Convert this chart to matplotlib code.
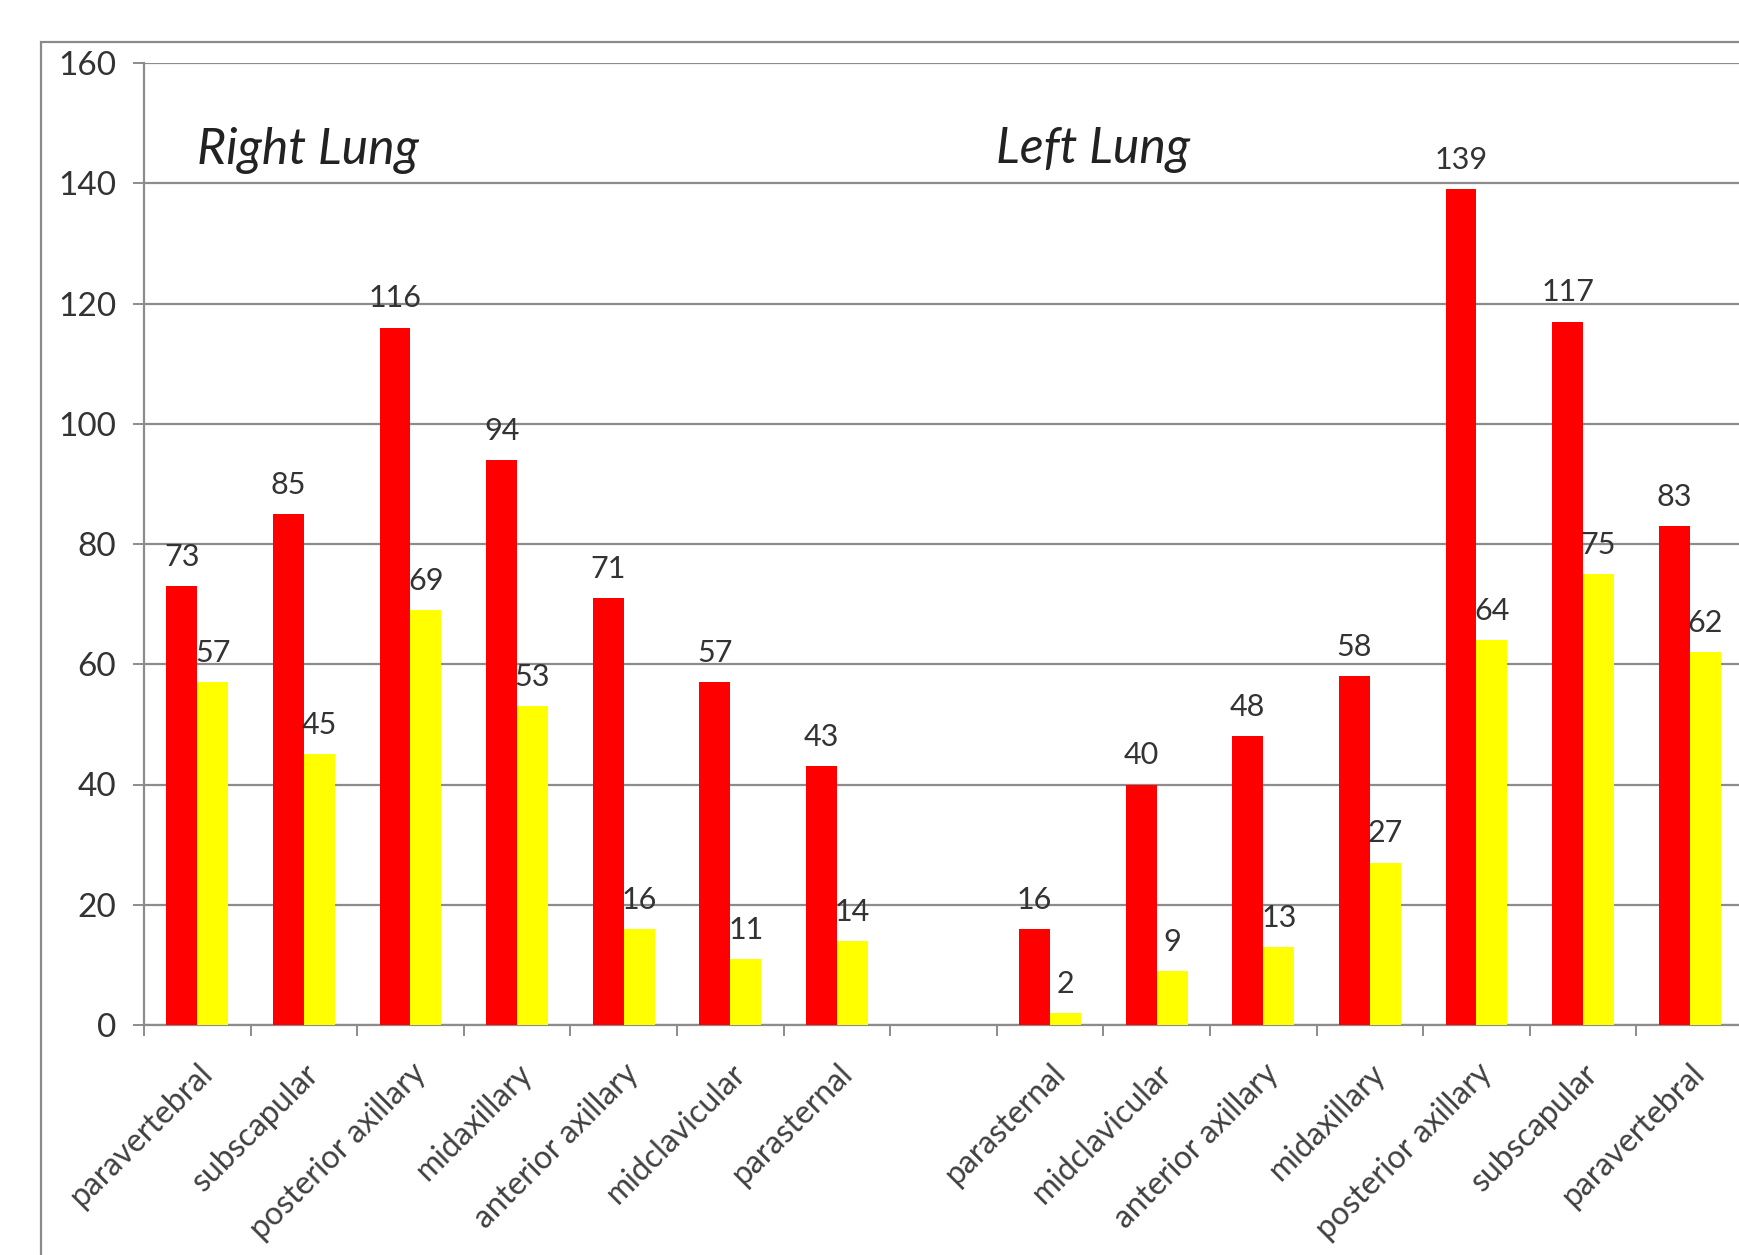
import numpy as np
import matplotlib
matplotlib.use("Agg")
import matplotlib.pyplot as plt
from matplotlib.patches import Rectangle

right_sites = ["paravertebral", "subscapular", "posterior axillary", "midaxillary",
               "anterior axillary", "midclavicular", "parasternal"]
left_sites = ["parasternal", "midclavicular", "anterior axillary", "midaxillary",
              "posterior axillary", "subscapular", "paravertebral"]

right_red = [73, 85, 116, 94, 71, 57, 43]
right_yellow = [57, 45, 69, 53, 16, 11, 14]
left_red = [16, 40, 48, 58, 139, 117, 83]
left_yellow = [2, 9, 13, 27, 64, 75, 62]

# one empty slot between the two lungs
labels = right_sites + [""] + left_sites
red = right_red + [None] + left_red
yellow = right_yellow + [None] + left_yellow

plt.rcParams['font.family'] = ['Lato', 'DejaVu Sans']

W, H = 1739, 1255
fig = plt.figure(figsize=(W / 100, H / 100), dpi=100)

# outer chart frame
fig.patches.append(Rectangle((41 / W, -0.1), 1.2, 1 - 42 / H + 0.1, transform=fig.transFigure,
                             fill=False, edgecolor="#8a8a8a", lw=1.6))

ax_left, ax_bottom = 144 / W, 1 - 1025 / H
ax_w = 15 * 106.6 / W
ax_h = (1025 - 63) / H
ax = fig.add_axes([ax_left, ax_bottom, ax_w, ax_h])

gray = "#8c8c8c"
bw = 0.29
for i in range(len(labels)):
    if red[i] is None:
        continue
    ax.bar(i - bw / 2, red[i], bw, color="#ff0000", zorder=3)
    ax.bar(i + bw / 2, yellow[i], bw, color="#ffff00", zorder=3)
    ax.annotate(str(red[i]), (i - bw / 2, red[i]), xytext=(0, 11), textcoords="offset points",
                ha="center", va="bottom", fontsize=22, color="#333333", zorder=4)
    ax.annotate(str(yellow[i]), (i + bw / 2, yellow[i]), xytext=(0, 11), textcoords="offset points",
                ha="center", va="bottom", fontsize=22, color="#333333", zorder=4)

ax.set_xlim(-0.5, 14.5)
ax.set_ylim(0, 160)
ax.set_yticks(np.arange(0, 161, 20))
ax.yaxis.grid(True, color=gray, lw=1.6, zorder=1)
ax.set_axisbelow(True)

ax.set_xticks(np.arange(len(labels)))
ax.set_xticklabels(labels, rotation=45, ha="right", rotation_mode="anchor",
                   fontsize=23, color="#404040")
ax.set_xticks(np.arange(-0.5, 15, 1), minor=True)
ax.tick_params(axis="x", which="major", length=0, pad=24)
ax.tick_params(axis="x", which="minor", length=8, width=1.4, color=gray, direction="out")
ax.tick_params(axis="y", length=8, width=1.4, color=gray, labelsize=24,
               labelcolor="#333333", pad=12)

for s in ["top", "right"]:
    ax.spines[s].set_visible(False)
for s in ["left", "bottom"]:
    ax.spines[s].set_color(gray)
    ax.spines[s].set_linewidth(1.6)

ax.text(0.0, 145.5, "Right Lung", style="italic", fontsize=36, color="#222222",
        va="center", ha="left")
ax.text(7.49, 145.5, "Left Lung", style="italic", fontsize=36, color="#222222",
        va="center", ha="left")

fig.savefig("out.png", dpi=100)
